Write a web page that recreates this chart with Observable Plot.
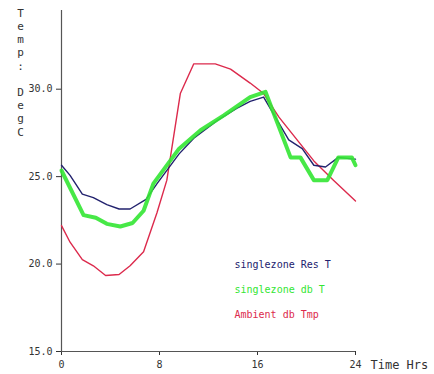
<!DOCTYPE html>
<html>
<head>
<meta charset="utf-8">
<script src="https://cdn.jsdelivr.net/npm/d3@7"></script>
<script src="https://cdn.jsdelivr.net/npm/@observablehq/plot@0.6"></script>
<style>
  html, body { margin: 0; padding: 0; background: #fff; }
  #chart svg { display: block; }
</style>
</head>
<body>
<div id="chart"></div>
<script>
// Zone temperatures over a day (hours 0-24, deg C)
const resHours = [0, 0.7, 1.7, 2.6, 3.7, 4.7, 5.6, 6.9, 7.8, 9.6, 10.8, 12.7, 14.3, 15.4, 16.5, 18.55, 19.65, 20.6, 21.55, 22.6, 23.85, 24];
const resTemp  = [25.65, 25.07, 24.0, 23.8, 23.4, 23.15, 23.15, 23.7, 24.6, 26.3, 27.2, 28.2, 28.9, 29.3, 29.55, 27.1, 26.6, 25.65, 25.55, 26.1, 26.0, 26.0];

const dbHours = [0, 1.8, 2.8, 3.7, 4.8, 5.8, 6.7, 7.5, 9.6, 11.35, 13.25, 15.4, 16.65, 18.7, 19.5, 20.6, 21.7, 22.6, 23.7, 24];
const dbTemp  = [25.35, 22.8, 22.65, 22.3, 22.15, 22.35, 23.05, 24.6, 26.6, 27.65, 28.5, 29.55, 29.85, 26.1, 26.1, 24.8, 24.8, 26.1, 26.1, 25.65];

const ambHours = [0, 0.7, 1.7, 2.6, 3.6, 4.7, 5.6, 6.7, 7.8, 8.6, 9.7, 10.8, 12.55, 13.8, 15.4, 16.5, 17.75, 20.6, 22.2, 24];
const ambTemp  = [22.2, 21.25, 20.25, 19.9, 19.35, 19.4, 19.9, 20.7, 22.95, 24.8, 29.75, 31.45, 31.45, 31.15, 30.35, 29.75, 28.4, 25.9, 24.8, 23.6];

const seriesNames  = ["singlezone Res T", "singlezone db T", "Ambient db Tmp"];
const seriesColors = ["#22226e", "#33e633", "#dc2a4c"];

const xTicks = [0, 8, 16, 24];
const yTicks = [15, 20, 25, 30];
const yLabel = "Temp: DegC";
const xLabel = "Time Hrs";

const toRows = (hours, temps) => hours.map((h, i) => ({hour: h, temp: temps[i]}));
const res = toRows(resHours, resTemp);
const db  = toRows(dbHours, dbTemp);
const amb = toRows(ambHours, ambTemp);

const mono = "'DejaVu Sans Mono', monospace";

// one legend line per series, stacked below one another
const legendMarks = seriesNames.map((name, i) =>
  Plot.text([name], {
    frameAnchor: "top-left", dx: 173, dy: 250 + i * 25,
    textAnchor: "start", fontSize: 10, fill: seriesColors[i]
  })
);

const chart = Plot.plot({
  width: 434,
  height: 374,
  marginLeft: 61,
  marginRight: 79,
  marginTop: 10,
  marginBottom: 23,
  style: {fontFamily: mono, fontSize: "10px", color: "#333", background: "#fff"},
  x: {domain: [0, 24], ticks: xTicks, tickSize: 4, tickFormat: d3.format("d"), label: null},
  y: {domain: [15, 34.5], ticks: yTicks, tickSize: 5, tickFormat: d3.format(".1f"), label: null},
  marks: [
    Plot.ruleX([0], {stroke: "#555", strokeWidth: 1.2}),
    Plot.ruleY([15], {stroke: "#555", strokeWidth: 1.2}),
    Plot.line(amb, {x: "hour", y: "temp", stroke: seriesColors[2], strokeWidth: 1.4}),
    Plot.line(res, {x: "hour", y: "temp", stroke: seriesColors[0], strokeWidth: 1.4}),
    Plot.line(db,  {x: "hour", y: "temp", stroke: seriesColors[1], strokeWidth: 4, strokeOpacity: 0.9}),
    // vertical stacked axis title
    Plot.text([yLabel.split("").join("\n")], {
      frameAnchor: "top-left", dx: -41, dy: -3, textAnchor: "middle", lineAnchor: "top",
      lineHeight: 1.2, fontSize: 11, fill: "#333"
    }),
    Plot.text([xLabel], {
      frameAnchor: "bottom-right", dx: 15, dy: 17, textAnchor: "start",
      fontSize: 12, fill: "#333"
    }),
    ...legendMarks
  ]
});

document.getElementById("chart").appendChild(chart);
</script>
</body>
</html>
